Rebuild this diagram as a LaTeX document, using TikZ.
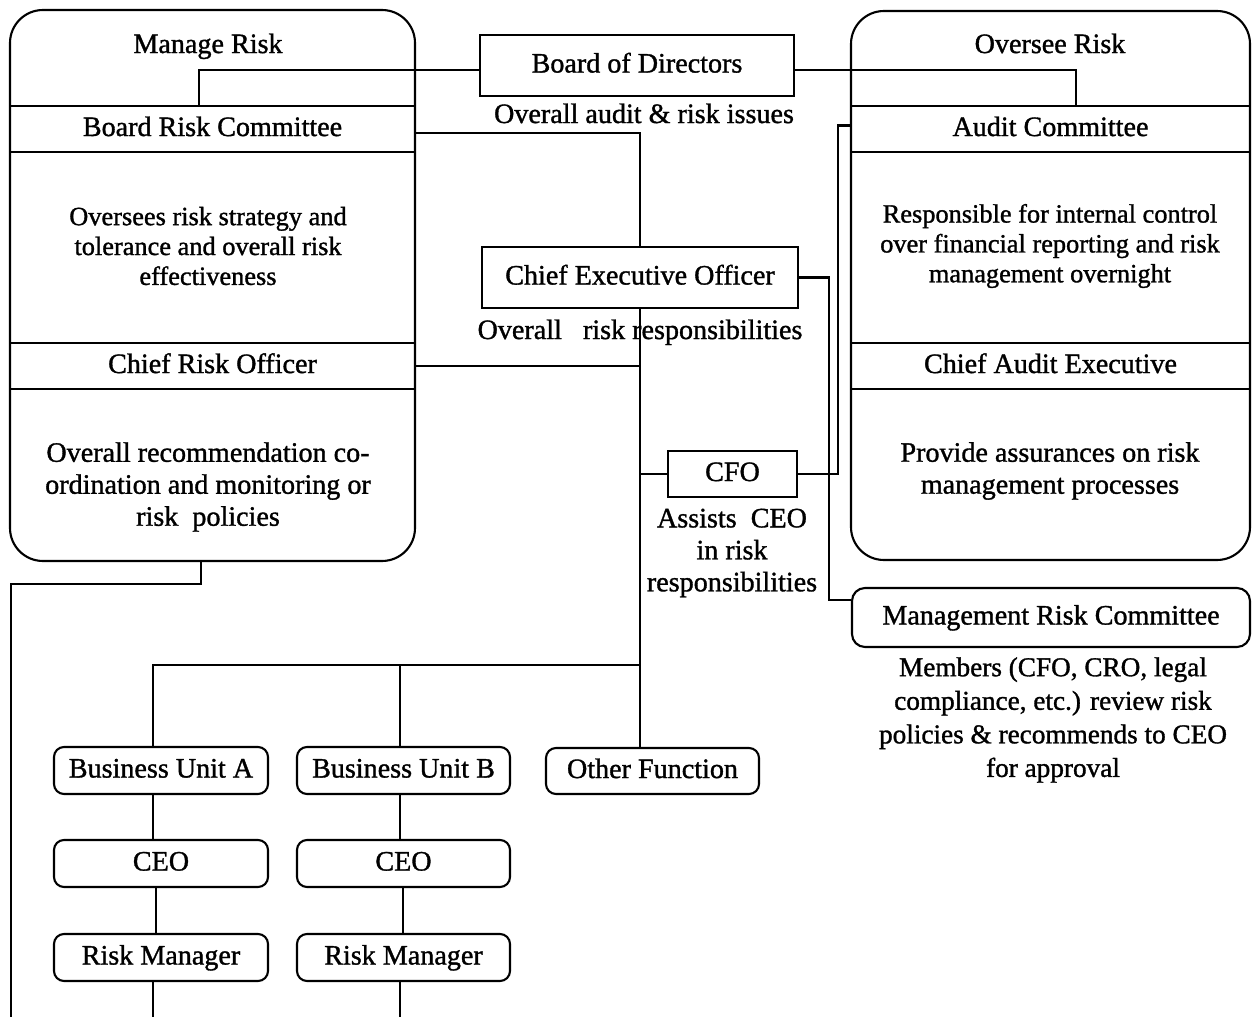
\documentclass[tikz,border=0pt]{standalone}
\usepackage{fontspec}
\setmainfont{Liberation Serif}[FakeBold=1.2]
\usetikzlibrary{fit}
\begin{document}
\begin{tikzpicture}[x=0.02cm,y=-0.02cm,
  line width=1.2pt,
  txt/.style={font=\fontsize{16}{19}\selectfont, inner sep=0pt, text height=11pt, text depth=3pt},
  desc/.style={font=\fontsize{15}{17}\selectfont, align=center, inner sep=0pt},
  descb/.style={font=\fontsize{16}{18.2}\selectfont, align=center, inner sep=0pt},
  descm/.style={font=\fontsize{15.5}{19.1}\selectfont, align=center, inner sep=0pt},
  sz/.style 2 args={minimum width=#1*0.02cm, minimum height=#2*0.02cm},
  panel/.style={draw, rounded corners=0.66cm, inner sep=0pt},
  band/.style={draw, txt},
  sq/.style={draw, txt},
  rbox/.style={draw, txt, rounded corners=0.2cm},
  mbox/.style={draw, txt, rounded corners=0.26cm},
]
\useasboundingbox (0,0) rectangle (1252,1017);

% left panel
\node[panel, fit={(10,10)(415,561)}] (mr) {};
\node[txt] (mrt) at (208,46) {Manage Risk};
\node[band, sz={405}{46}] (brc) at (212.5,129) {Board Risk Committee};
\node[desc] (brcd) at (208,246) {Oversees risk strategy and\\tolerance and overall risk\\effectiveness};
\node[band, sz={405}{46}] (cro) at (212.5,366) {Chief Risk Officer};
\node[descb] (crod) at (208,487) {Overall recommendation co-\\ordination and monitoring or\\risk\ \ policies};

% right panel
\node[panel, fit={(851,11)(1250,560)}] (orp) {};
\node[txt] (ort) at (1050,46) {Oversee Risk};
\node[band, sz={399}{46}] (ac) at (1050.5,129) {Audit Committee};
\node[desc] (acd) at (1050,246) {Responsible for internal control\\over financial reporting and risk\\management overnight};
\node[band, sz={399}{46}] (cae) at (1050.5,366) {Chief Audit Executive};
\node[descb] (caed) at (1050,471) {Provide assurances on risk\\management processes};

% centre
\node[sq, sz={314}{61}] (bod) at (637,65.5) {Board of Directors};
\node[txt] (bodd) at (644,116) {Overall audit \& risk issues};
\node[sq, sz={316}{61}] (ceo) at (640,277.5) {Chief Executive Officer};
\node[txt] (ceod) at (640,332) {Overall\ \ \ risk responsibilities};
\node[sq, sz={129}{46}] (cfo) at (732.5,474) {CFO};
\node[descb] (cfod) at (732,553) {Assists\ \ CEO\\in risk\\responsibilities};
\node[mbox, sz={398}{59}] (mrc) at (1051,617.5) {Management Risk Committee};
\node[descm] (mrcd) at (1053,720) {Members (CFO, CRO, legal\\compliance, etc.) review risk\\policies \& recommends to CEO\\for approval};

% bottom boxes
\node[rbox, sz={214}{47}] (bua) at (161,770.5) {Business Unit A};
\node[rbox, sz={213}{47}] (bub) at (403.5,770.5) {Business Unit B};
\node[rbox, sz={213}{46}] (ofn) at (652.5,771) {Other Function};
\node[rbox, sz={214}{47}] (ceoa) at (161,863.5) {CEO};
\node[rbox, sz={213}{47}] (ceob) at (403.5,863.5) {CEO};
\node[rbox, sz={214}{47}] (rma) at (161,957.5) {Risk Manager};
\node[rbox, sz={213}{47}] (rmb) at (403.5,957.5) {Risk Manager};

% helper coordinates
\coordinate (xl) at (199,0);
\coordinate (xr) at (1076,0);
\coordinate (xm) at (201,0);
\coordinate (lb) at (11,584);
\coordinate (le) at (11,1017);
\coordinate (hb) at (640,665);
\coordinate (xa) at (153,0);
\coordinate (xa2) at (156,0);
\coordinate (xb) at (400,0);
\coordinate (xb2) at (403,0);
\coordinate (ea) at (153,1017);
\coordinate (eb) at (400,1017);

% connectors
\draw ([yshift=-0.09cm]bod.west) -| (brc.north -| xl);
\draw ([yshift=-0.09cm]bod.east) -| (ac.north -| xr);
\draw ([yshift=-0.08cm]brc.east) -| (ceo.north);
\draw (ceo.south) -- (ceo.south |- ofn.north);
\draw (cro.east) -- (cro.east -| ceo.south);
\draw (cfo.west) -- (cfo.west -| ceo.south);
\draw (ceo.east) -- ++(30,0) |- ([yshift=0.35cm]mrc.west);
\draw (cfo.east) -- ++(40,0) |- ([yshift=0.07cm]ac.west);
\draw (mr.south -| xm) |- (lb) -- (le);
\draw (bua.north -| xa) |- (hb);
\draw (bub.north -| xb) -- (xb |- hb);
\draw (bua.south -| xa) -- (ceoa.north -| xa);
\draw (ceoa.south -| xa2) -- (rma.north -| xa2);
\draw (rma.south -| xa) -- (ea);
\draw (bub.south -| xb) -- (ceob.north -| xb);
\draw (ceob.south -| xb2) -- (rmb.north -| xb2);
\draw (rmb.south -| xb) -- (eb);
\end{tikzpicture}
\end{document}
